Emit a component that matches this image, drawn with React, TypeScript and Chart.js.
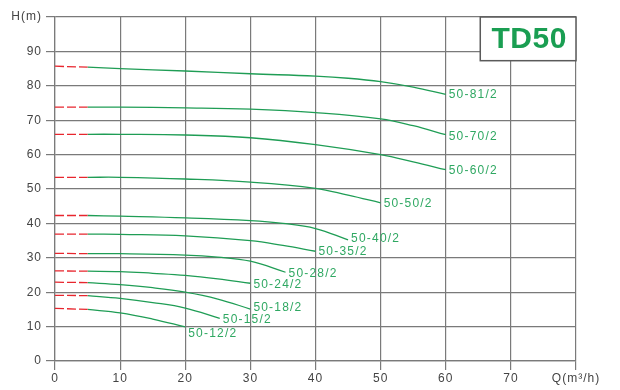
import React, { useEffect, useRef } from "react";
import { Chart, registerables } from "chart.js";

Chart.register(...registerables);

// ---- data ----
const xTickValues = [0, 10, 20, 30, 40, 50, 60, 70, 80];
const yTickValues = [0, 10, 20, 30, 40, 50, 60, 70, 80, 90, 100];
const xAxisTitle = "Q(m³/h)";
const yAxisTitle = "H(m)";
const modelTitle = "TD50";

const seriesNames = [
  "50-81/2", "50-70/2", "50-60/2", "50-50/2", "50-40/2", "50-35/2",
  "50-28/2", "50-24/2", "50-18/2", "50-15/2", "50-12/2",
];

const q81 = [0, 5, 10, 20, 30, 40, 45, 50, 55, 60];
const h81 = [85.7, 85.4, 85.0, 84.3, 83.5, 82.8, 82.2, 81.2, 79.6, 77.5];

const q70 = [0, 5, 10, 20, 30, 40, 50, 55, 60];
const h70 = [73.8, 73.8, 73.8, 73.6, 73.2, 72.2, 70.4, 68.4, 65.8];

const q60 = [0, 5, 10, 20, 30, 40, 50, 55, 60];
const h60 = [65.9, 65.9, 65.9, 65.7, 64.9, 62.9, 60.0, 57.9, 55.6];

const q50 = [0, 5, 10, 20, 30, 40, 45, 50];
const h50 = [53.4, 53.4, 53.4, 52.9, 52.0, 50.2, 48.2, 46.0];

const q40 = [0, 5, 10, 20, 30, 35, 40, 45];
const h40 = [42.3, 42.3, 42.1, 41.6, 40.8, 40.0, 38.5, 35.2];

const q35 = [0, 5, 10, 20, 30, 35, 40];
const h35 = [36.9, 36.9, 36.8, 36.4, 35.0, 33.6, 31.9];

const q28 = [0, 5, 10, 20, 25, 30, 35.4];
const h28 = [31.3, 31.2, 31.2, 30.8, 30.2, 29.0, 25.8];

const q24 = [0, 5, 10, 15, 20, 25, 30];
const h24 = [26.2, 26.1, 26.0, 25.5, 24.9, 23.9, 22.6];

const q18 = [0, 5, 10, 15, 20, 25, 30];
const h18 = [22.9, 22.8, 22.2, 21.3, 20.0, 18.0, 15.1];

const q15 = [0, 5, 10, 15, 20, 25.3];
const h15 = [19.1, 19.0, 18.2, 17.0, 15.4, 12.4];

const q12 = [0, 5, 10, 15, 20];
const h12 = [15.3, 15.0, 14.0, 12.2, 9.9];

const seriesQ = [q81, q70, q60, q50, q40, q35, q28, q24, q18, q15, q12];
const seriesH = [h81, h70, h60, h50, h40, h35, h28, h24, h18, h15, h12];

// flow below which the curve is drawn dashed (red)
const dashedLimitQ = 5;

// ---- style ----
const FONT = "'Liberation Sans', Arial, Helvetica, sans-serif";
const GREEN = "#1f9d55";
const LABEL_GREEN = "#2fa862";
const RED = "#e8262e";
const GRID = "#7a7a7a";
const TEXT = "#444444";
const labelNudgeY = [0.5, 2, 1, 0.5, -1, 0.7, 1, 1.6, -1.5, 1, 7];
const boxLeftQ = 65.3;
const boxBottomH = 87.3;

const curveLabelPlugin = {
  id: "curveLabels",
  beforeDraw(chart: any) {
    chart.ctx.letterSpacing = "1px";
  },
  beforeDatasetsDraw(chart: any) {
    const { ctx, chartArea, scales } = chart;
    const left = scales.x.getPixelForValue(boxLeftQ);
    const bottom = scales.y.getPixelForValue(boxBottomH);
    const right = chartArea.right;
    const top = chartArea.top;
    ctx.save();
    ctx.fillStyle = "#ffffff";
    ctx.fillRect(left, top, right - left, bottom - top);
    ctx.strokeStyle = "#5a5a5a";
    ctx.lineWidth = 1.5;
    ctx.strokeRect(left, top, right - left, bottom - top);
    ctx.fillStyle = "#1a9e52";
    ctx.font = `bold 30px ${FONT}`;
    ctx.letterSpacing = "0.5px";
    ctx.textAlign = "center";
    ctx.textBaseline = "middle";
    ctx.fillText(modelTitle, (left + right) / 2 + 1, (top + bottom) / 2 + 1);
    ctx.restore();
  },
  afterDatasetsDraw(chart: any) {
    const { ctx, scales } = chart;
    ctx.save();
    ctx.font = `12px ${FONT}`;
    ctx.letterSpacing = "1.2px";
    ctx.fillStyle = LABEL_GREEN;
    ctx.textAlign = "left";
    ctx.textBaseline = "middle";
    seriesNames.forEach((name, i) => {
      const qs = seriesQ[i];
      const hs = seriesH[i];
      const px = scales.x.getPixelForValue(qs[qs.length - 1]);
      const py = scales.y.getPixelForValue(hs[hs.length - 1]);
      ctx.fillText(name, px + 3, py + labelNudgeY[i]);
    });
    ctx.restore();
  },
};

export default function App() {
  const canvasRef = useRef<HTMLCanvasElement | null>(null);

  useEffect(() => {
    document.body.style.margin = "0";
    const canvas = canvasRef.current;
    if (!canvas) return;

    const datasets: any[] = [];
    seriesNames.forEach((name, i) => {
      const qs = seriesQ[i];
      const hs = seriesH[i];
      const dashed = qs
        .map((q, k) => ({ x: q, y: hs[k] }))
        .filter((p) => p.x <= dashedLimitQ);
      const solid = qs
        .map((q, k) => ({ x: q, y: hs[k] }))
        .filter((p) => p.x >= dashedLimitQ);
      datasets.push({
        label: name + " (dashed)",
        data: dashed,
        borderColor: RED,
        borderWidth: 1.3,
        borderDash: [9, 3],
        pointRadius: 0,
        tension: 0,
      });
      datasets.push({
        label: name,
        data: solid,
        borderColor: GREEN,
        borderWidth: 1.3,
        pointRadius: 0,
        tension: 0.4,
      });
    });

    const chart = new Chart(canvas, {
      type: "line",
      data: { datasets },
      plugins: [curveLabelPlugin],
      options: {
        animation: false,
        responsive: false,
        devicePixelRatio: 1,
        layout: { padding: { top: 17, right: 44, left: 0, bottom: 0 } },
        plugins: { legend: { display: false }, tooltip: { enabled: false } },
        scales: {
          x: {
            type: "linear",
            min: 0,
            max: 80,
            afterBuildTicks: (scale: any) => {
              scale.ticks = xTickValues.map((v) => ({ value: v }));
            },
            afterFit: (scale: any) => {
              scale.height = 29;
            },
            grid: { color: GRID, lineWidth: 1.2, tickLength: 9, drawTicks: true },
            border: { display: true, color: GRID, width: 1.2 },
            ticks: {
              color: TEXT,
              font: { family: FONT, size: 12 },
              padding: 1,
              maxRotation: 0,
              autoSkip: false,
              callback: (v: any) => (v === 80 ? xAxisTitle : String(v)),
            },
          },
          y: {
            type: "linear",
            min: 0,
            max: 100,
            afterBuildTicks: (scale: any) => {
              scale.ticks = yTickValues.map((v) => ({ value: v }));
            },
            afterFit: (scale: any) => {
              scale.width = 55;
            },
            grid: { color: GRID, lineWidth: 1.2, tickLength: 9, drawTicks: true },
            border: { display: true, color: GRID, width: 1.2 },
            ticks: {
              color: TEXT,
              font: { family: FONT, size: 12 },
              padding: 4,
              autoSkip: false,
              callback: (v: any) => (v === 100 ? yAxisTitle : String(v)),
            },
          },
        },
      } as any,
    });
    return () => chart.destroy();
  }, []);

  return (
    <div style={{ position: "absolute", left: 0, top: 0, width: 620, height: 390, background: "#fff" }}>
      <canvas ref={canvasRef} width={620} height={390} style={{ display: "block" }} />
    </div>
  );
}
